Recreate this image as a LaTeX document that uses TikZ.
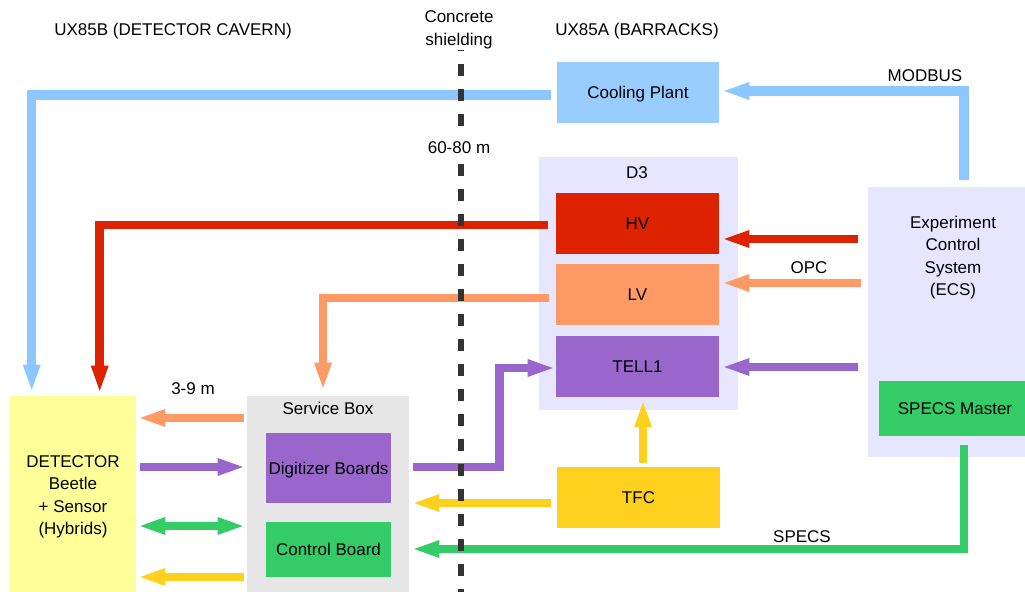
\documentclass[tikz,border=0pt]{standalone}
\usepackage{fontspec}
\setmainfont{Liberation Sans}
\usetikzlibrary{arrows.meta,calc}
\definecolor{cBlue}{HTML}{99CCFF}
\definecolor{cPipe}{HTML}{8CC8FF}
\definecolor{cRed}{HTML}{DD2200}
\definecolor{cOrange}{HTML}{FF9966}
\definecolor{cPurple}{HTML}{9966CC}
\definecolor{cGreen}{HTML}{33CC66}
\definecolor{cYellow}{HTML}{FFD11F}
\definecolor{cLav}{HTML}{E6E6FF}
\definecolor{cGrey}{HTML}{E6E6E6}
\definecolor{cDet}{HTML}{FFFF99}
\definecolor{cDash}{HTML}{333333}
\begin{document}
\begin{tikzpicture}[x=0.75pt,y=-0.75pt,
  every node/.style={font=\fontsize{12.75pt}{16.9pt}\selectfont, inner sep=0pt, align=center, text=black},
  box/.style 2 args={rectangle, draw=none, minimum width=#1*0.75pt, minimum height=#2*0.75pt},
  one/.style={text height=9.1pt, text depth=0pt},
  >={Triangle[length=18.75pt,width=13.5pt,line width=0pt]},
  conn/.style={line width=6.5pt, line join=miter},
  pipe/.style={line width=7pt, line join=miter, draw=cPipe},
  dashline/.style={draw=cDash, line width=4.5pt, dash pattern=on 9pt off 9.75pt, dash phase=8.25pt}]
\useasboundingbox (0,0) rectangle (1025,592);
\fill[white] (0,0) rectangle (1025,592);

% containers
\node[box={199}{253}, fill=cLav] (d3) at (638.5,283.5) {};
\node[box={170}{270}, fill=cLav] (ecs) at (953,322) {};
\node[box={126}{196}, fill=cDet] (det) at (73,494) {};
\node[box={162}{196}, fill=cGrey] (sbox) at (328,494) {};

% boxes
\node[box={162}{61}, one, fill=cBlue] (cool) at (638,92.5) {Cooling Plant};
\node[box={163}{61}, one, fill=cRed] (hv) at (637.5,223.5) {HV};
\node[box={163}{61}, one, fill=cOrange] (lv) at (637.5,294.5) {LV};
\node[box={163}{61}, one, fill=cPurple] (tell) at (637.5,366.5) {TELL1};
\node[box={163}{61}, one, fill=cYellow] (tfc) at (638.5,497.5) {TFC};
\node[box={152}{55}, one, fill=cGreen] (specs) at (955,408.5) {SPECS Master};
\node[box={125}{70}, one, fill=cPurple] (dig) at (328.5,468) {Digitizer Boards};
\node[box={125}{55}, one, fill=cGreen] (ctrl) at (328.5,549.5) {Control Board};

% labels
\node (detlbl) at (73,497) {DETECTOR\\Beetle\\+ Sensor\\(Hybrids)};
\node (d3lbl) at (637,173) {D3};
\node (ecslbl) at (953,257.5) {Experiment\\Control\\System\\(ECS)};
\node (sboxlbl) at (328,408) {Service Box};
\node (cavern) at (173,31) {UX85B (DETECTOR CAVERN)};
\node (barracks) at (637,31) {UX85A (BARRACKS)};
\node (concrete) at (459,30) {Concrete\\shielding};
\node (modbus) at (925,76) {MODBUS};
\node (opc) at (809,268) {OPC};
\node (near) at (193,389) {3-9 m};
\node (specslbl) at (802,537) {SPECS};

% connectors
\draw[pipe,->] ($(cool.west)+(-6,2.5)$) -| ($(det.north west)+(22,-6)$);
\draw[pipe,->] ($(ecs.north)+(11,-7)$) |- ($(cool.east)+(5,-1.5)$);
\draw[conn,draw=cRed,->] ($(hv.west)+(-8,1.5)$) -| ($(det.north west)+(90,-5)$);
\draw[conn,draw=cOrange,->] ($(lv.west)+(-7,3.5)$) -| ($(sbox.north)+(-5,-8)$);

\draw[conn,draw=cRed,->] ($(ecs.west|-hv.east)+(-10,15.5)$) -- ($(hv.east)+(5,15.5)$);
\draw[conn,draw=cOrange,->] ($(ecs.west|-lv.east)+(-7,-11.5)$) -- ($(lv.east)+(5,-11.5)$);
\draw[conn,draw=cPurple,->] ($(ecs.west|-tell.east)+(-10,0.5)$) -- ($(tell.east)+(5,0.5)$);

\draw[conn,draw=cOrange,->] ($(sbox.west)+(-3,-76)$) -- ($(det.east)+(4,-76)$);
\draw[conn,draw=cPurple,->] ($(det.east)+(4,-27)$) -- ($(sbox.west)+(-4,-27)$);
\draw[conn,draw=cGreen,<->] ($(det.east)+(4,32)$) -- ($(sbox.west)+(-4,32)$);
\draw[conn,draw=cYellow,->] ($(sbox.west)+(-3,83)$) -- ($(det.east)+(4,83)$);

\draw[conn,draw=cPurple,->] ($(dig.east)+(22,-1)$) -| ($(tell.west)+(-56,1.5)$) -- ($(tell.west)+(-3,1.5)$);
\draw[conn,draw=cYellow,->] ($(tfc.north)+(4.5,-4)$) -- ($(tell.south)+(5.5,5)$);
\draw[conn,draw=cYellow,->] ($(tfc.west)+(-6,5.5)$) -- ($(sbox.east)+(5,9)$);
\draw[conn,draw=cGreen,->] ($(specs.south)+(9,9)$) |- ($(sbox.east)+(5,55)$);

% concrete shielding
\coordinate (wallT) at (461,50);
\coordinate (wallB) at (461,592);
\draw[dashline] (wallT) -- (wallB);
\node[fill=white, inner ysep=5pt, inner xsep=1pt] (dist) at (459,148) {60-80 m};
\end{tikzpicture}
\end{document}
